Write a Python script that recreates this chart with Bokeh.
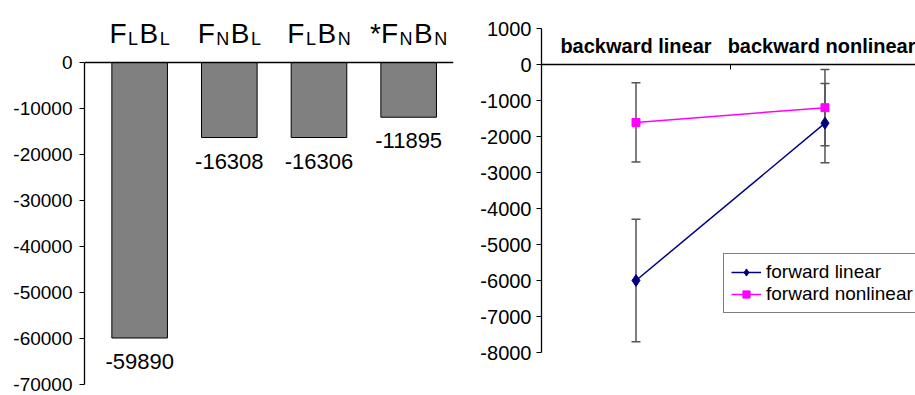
from bokeh.plotting import figure
from bokeh.models import (Range1d, Span, FixedTicker, LinearAxis, Legend, LegendItem,
                          Whisker, TeeHead, ColumnDataSource)
from bokeh.layouts import row
from bokeh.core.properties import value
from bokeh.embed import file_html
from bokeh.resources import INLINE

# ---------------- data ----------------
categories = ["FLBL", "FNBL", "FLBN", "*FNBN"]
cat_label_parts = [
    [("F", False), ("L", True), ("B", False), ("L", True)],
    [("F", False), ("N", True), ("B", False), ("L", True)],
    [("F", False), ("L", True), ("B", False), ("N", True)],
    [("*F", False), ("N", True), ("B", False), ("N", True)],
]
bar_values = [-59890, -16308, -16306, -11895]
left_ticks = [0, -10000, -20000, -30000, -40000, -50000, -60000, -70000]

backward_cats = ["backward linear", "backward nonlinear"]
fwd_lin = [-6000, -1630]
fwd_lin_err = [1700, 1100]
fwd_nonlin = [-1610, -1200]
fwd_nonlin_err = [1100, 1060]
right_ticks = [1000, 0, -1000, -2000, -3000, -4000, -5000, -6000, -7000, -8000]

FONT = value("Liberation Sans")

# ---------------- left chart ----------------
p1 = figure(width=460, height=395, x_range=Range1d(-0.615, 3.5),
            y_range=Range1d(-72390, 13480), output_backend="svg",
            toolbar_location=None, x_axis_location=None, frame_align=False,
            min_border_left=84, min_border_right=7, min_border_top=0, min_border_bottom=0)
p1.outline_line_color = None
p1.grid.visible = False
ya = p1.yaxis[0]
ya.ticker = FixedTicker(ticks=left_ticks)
ya.bounds = (min(left_ticks), max(left_ticks))
ya.major_label_overrides = {t: str(t) for t in left_ticks}
ya.major_tick_out = 5
ya.major_tick_in = 0
ya.minor_tick_out = 0
ya.minor_tick_in = 0
ya.major_label_standoff = 7
ya.major_label_text_font_size = "19px"
ya.major_label_text_font = "Liberation Sans"
ya.major_label_text_color = "black"
ya.axis_line_color = "black"
ya.axis_line_width = 1.3
ya.major_tick_line_color = "black"

p1.add_layout(Span(location=0, dimension="width", line_color="black", line_width=1.3))

xs = list(range(len(categories)))
src1 = ColumnDataSource(dict(x=xs, v=bar_values, lbl=[str(v) for v in bar_values]))
p1.vbar(x="x", top=0, bottom="v", width=0.62, source=src1,
        fill_color="#808080", line_color="black", line_width=1)
p1.text(x="x", y="v", text="lbl", source=src1, text_align="center",
        text_baseline="top", y_offset=16, text_font_size="22px",
        text_font=FONT, text_color="black")

# category labels with subscripts
char_w = {"F": 0.611, "B": 0.667, "L": 0.556, "N": 0.722, "*": 0.389}
MAIN, SUB, GAP = 28, 18, 1.5
seg_x, seg_txt, seg_size, seg_xo, seg_yo = [], [], [], [], []
for i, parts in enumerate(cat_label_parts):
    widths = []
    for txt, sub in parts:
        fs = SUB if sub else MAIN
        widths.append(sum(char_w[c] for c in txt) * fs + GAP)
    total = sum(widths) - GAP
    cur = -total / 2
    for (txt, sub), w in zip(parts, widths):
        seg_x.append(i)
        seg_txt.append(txt)
        seg_size.append(f"{SUB if sub else MAIN}px")
        seg_xo.append(cur)
        seg_yo.append(-23.5 if sub else -29)
        cur += w
src_lbl = ColumnDataSource(dict(x=seg_x, y=[0] * len(seg_x), t=seg_txt, fs=seg_size,
                                xo=seg_xo, yo=seg_yo))
p1.text(x="x", y="y", text="t", source=src_lbl, text_font_size="fs",
        x_offset="xo", y_offset="yo", text_align="left", text_baseline="alphabetic",
        text_font=FONT, text_color="black")

# ---------------- right chart ----------------
p2 = figure(width=455, height=395, x_range=Range1d(0, 1.979),
            y_range=Range1d(-8000, 1000), output_backend="svg",
            toolbar_location=None, x_axis_location=None, frame_align=False,
            min_border_left=81, min_border_right=0, min_border_top=28, min_border_bottom=43)
p2.outline_line_color = None
p2.grid.visible = False
yb = p2.yaxis[0]
yb.ticker = FixedTicker(ticks=right_ticks)
yb.major_label_overrides = {t: str(t) for t in right_ticks}
yb.major_tick_out = 5
yb.major_tick_in = 0
yb.minor_tick_out = 0
yb.minor_tick_in = 0
yb.major_label_standoff = 5
yb.major_label_text_font_size = "20px"
yb.major_label_text_font = "Liberation Sans"
yb.major_label_text_color = "black"
yb.axis_line_color = "black"
yb.axis_line_width = 1.3
yb.major_tick_line_color = "black"

cx = [i + 0.5 for i in range(len(backward_cats))]
cat_axis = LinearAxis(fixed_location=0,
                      ticker=FixedTicker(ticks=cx, minor_ticks=[1.0]),
                      major_label_overrides={c: n for c, n in zip(cx, backward_cats)},
                      major_tick_out=0, major_tick_in=0,
                      minor_tick_out=0, minor_tick_in=5,
                      major_label_standoff=8,
                      major_label_text_font_size="20px",
                      major_label_text_font="Liberation Sans",
                      major_label_text_font_style="bold",
                      major_label_text_color="black",
                      axis_line_color="black", axis_line_width=1.3,
                      minor_tick_line_color="black")
p2.add_layout(cat_axis, "above")

src_l = ColumnDataSource(dict(x=cx, y=fwd_lin,
                              up=[m + e for m, e in zip(fwd_lin, fwd_lin_err)],
                              lo=[m - e for m, e in zip(fwd_lin, fwd_lin_err)]))
src_n = ColumnDataSource(dict(x=cx, y=fwd_nonlin,
                              up=[m + e for m, e in zip(fwd_nonlin, fwd_nonlin_err)],
                              lo=[m - e for m, e in zip(fwd_nonlin, fwd_nonlin_err)]))
for s in (src_l, src_n):
    w = Whisker(source=s, base="x", upper="up", lower="lo", dimension="height",
                line_color="#555555", line_width=1.5, level="underlay",
                upper_head=TeeHead(size=9, line_color="#555555", line_width=1.5),
                lower_head=TeeHead(size=9, line_color="#555555", line_width=1.5))
    p2.add_layout(w)

l1 = p2.line(x="x", y="y", source=src_l, line_color="#000080", line_width=1.5)
m1 = p2.scatter(x="x", y="y", source=src_l, marker="diamond", size=12,
                fill_color="#000080", line_color="#000080")
l2 = p2.line(x="x", y="y", source=src_n, line_color="#FF00FF", line_width=1.5)
m2 = p2.scatter(x="x", y="y", source=src_n, marker="square", size=8,
                fill_color="#FF00FF", line_color="#FF00FF")

legend = Legend(items=[LegendItem(label="forward linear", renderers=[l1, m1]),
                       LegendItem(label="forward nonlinear", renderers=[l2, m2])],
                location=(182, 39), orientation="vertical",
                border_line_color="black", border_line_width=1.5,
                background_fill_color="white", background_fill_alpha=1,
                padding=7, spacing=0, margin=0,
                glyph_width=30, glyph_height=18, label_height=18,
                label_standoff=5, label_text_font_size="19px",
                label_text_font="Liberation Sans", label_text_color="black")
p2.add_layout(legend, "center")

layout = row(p1, p2)
open("out.html", "w").write(file_html(layout, INLINE))
